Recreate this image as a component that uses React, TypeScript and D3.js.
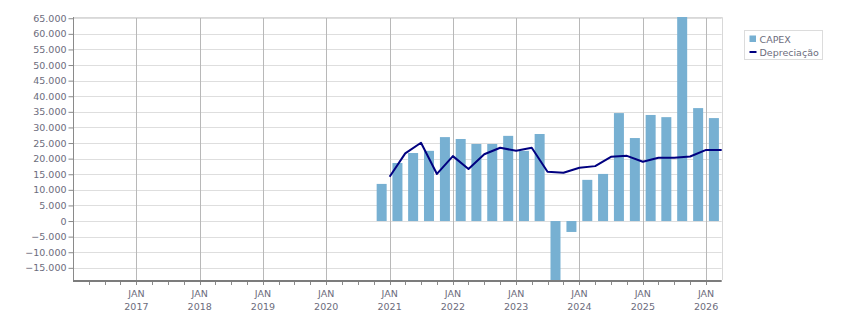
import React, { useRef, useEffect } from "react";
import * as d3 from "d3";

// quarter labels (start of each quarter)
const QUARTERS = [
  "2020-10", "2021-01", "2021-04", "2021-07", "2021-10",
  "2022-01", "2022-04", "2022-07", "2022-10",
  "2023-01", "2023-04", "2023-07", "2023-10",
  "2024-01", "2024-04", "2024-07", "2024-10",
  "2025-01", "2025-04", "2025-07", "2025-10",
  "2026-01",
];

const CAPEX = [
  11900, 18600, 21800, 22500, 26900,
  26300, 24700, 24700, 27300,
  22500, 27900, -21000, -3500,
  13200, 15100, 34600, 26600,
  34000, 33300, 67000, 36200,
  33000,
];

const DEPRECIACAO = [
  14200, 21700, 25100, 15100, 20800,
  16700, 21400, 23500, 22500,
  23500, 15800, 15500, 17100,
  17600, 20600, 20900, 19000,
  20300, 20300, 20700, 22800,
  22800,
];

const Y_TICKS = d3.range(-15000, 65001, 5000);
const SERIES_NAMES = ["CAPEX", "Depreciação"];

const BAR_COLOR = "#77b0d2";
const LINE_COLOR = "#000080";
const TEXT_COLOR = "#6c6c7c";
const FONT = "'DejaVu Sans', Verdana, sans-serif";

const fmt = (d: number) =>
  d3.format(",")(d).replace(/,/g, ".");

export default function App() {
  const svgRef = useRef<SVGSVGElement>(null);
  const width = 851;
  const height = 313;

  useEffect(() => {
    if (!svgRef.current) return;
    const svg = d3.select(svgRef.current);
    svg.selectAll("*").remove();

    const left = 73, right = 721.7, top = 17, bottom = 280;

    const parse = d3.timeParse("%Y-%m");
    const starts = QUARTERS.map((q) => parse(q) as Date);
    const ends = starts.map((d) => d3.timeMonth.offset(d, 3));

    const x = d3
      .scaleTime()
      .domain([new Date(2016, 0, 1), new Date(2026, 3, 1)])
      .range([left, right]);
    const y = d3.scaleLinear().domain([-18900, 65400]).range([bottom, top]);

    svg.append("rect").attr("width", width).attr("height", height).attr("fill", "#fff");

    svg
      .append("defs")
      .append("clipPath")
      .attr("id", "plot-clip")
      .append("rect")
      .attr("x", left)
      .attr("y", top)
      .attr("width", right - left)
      .attr("height", bottom - top);

    // horizontal grid
    svg
      .append("g")
      .selectAll("line")
      .data(Y_TICKS)
      .join("line")
      .attr("x1", left)
      .attr("x2", right)
      .attr("y1", (d) => Math.round(y(d)) + 0.5)
      .attr("y2", (d) => Math.round(y(d)) + 0.5)
      .attr("stroke", "#dedede");

    // vertical grid at each january
    const years = d3.timeYear.range(new Date(2017, 0, 1), new Date(2026, 1, 1));
    svg
      .append("g")
      .selectAll("line")
      .data(years)
      .join("line")
      .attr("x1", (d) => Math.round(x(d)) + 0.5)
      .attr("x2", (d) => Math.round(x(d)) + 0.5)
      .attr("y1", top)
      .attr("y2", bottom)
      .attr("stroke", "#b8b8b8");

    // frame top / right
    svg
      .append("path")
      .attr("d", `M${left},${top + 0.5}H${Math.round(right) + 0.5}V${bottom}`)
      .attr("fill", "none")
      .attr("stroke", "#d8d8d8");

    // bars
    const bw = 10;
    svg
      .append("g")
      .attr("clip-path", "url(#plot-clip)")
      .selectAll("rect")
      .data(CAPEX)
      .join("rect")
      .attr("x", (_, i) => (x(starts[i]) + x(ends[i])) / 2 - bw / 2)
      .attr("width", bw)
      .attr("y", (d) => y(Math.max(0, d)))
      .attr("height", (d) => Math.abs(y(d) - y(0)))
      .attr("fill", BAR_COLOR);

    // depreciation line
    const line = d3
      .line<number>()
      .x((_, i) => x(ends[i]))
      .y((d) => y(d));
    svg
      .append("path")
      .datum(DEPRECIACAO)
      .attr("d", line)
      .attr("fill", "none")
      .attr("stroke", LINE_COLOR)
      .attr("stroke-width", 2)
      .attr("stroke-linejoin", "round");

    // y axis
    const yAxis = svg
      .append("g")
      .attr("transform", `translate(${left + 0.5},0)`)
      .call(
        d3
          .axisLeft(y)
          .tickValues(Y_TICKS)
          .tickSize(5)
          .tickPadding(2)
          .tickFormat((d) => fmt(d as number))
      );
    yAxis.select(".domain").attr("stroke", "#8a8a8a").attr("d", `M0,${top}V${bottom}`);
    yAxis.selectAll(".tick line").attr("stroke", "#8a8a8a");
    yAxis
      .selectAll("text")
      .style("font-family", FONT)
      .style("font-size", "9.5px")
      .attr("fill", TEXT_COLOR);

    // x axis: quarterly minor ticks, january labels
    const quarterTicks = d3.timeMonth.every(3)!.range(new Date(2016, 3, 1), new Date(2026, 3, 1));
    svg
      .append("g")
      .selectAll("line")
      .data(quarterTicks)
      .join("line")
      .attr("x1", (d) => Math.round(x(d)) + 0.5)
      .attr("x2", (d) => Math.round(x(d)) + 0.5)
      .attr("y1", bottom)
      .attr("y2", bottom + 5)
      .attr("stroke", "#8a8a8a");

    svg
      .append("line")
      .attr("x1", left)
      .attr("x2", right)
      .attr("y1", bottom + 1)
      .attr("y2", bottom + 1)
      .attr("stroke", "#7c7c7c")
      .attr("stroke-width", 2);

    const xLabels = svg.append("g");
    years.forEach((d) => {
      const t = xLabels
        .append("text")
        .attr("x", x(d))
        .attr("text-anchor", "middle")
        .style("font-family", FONT)
        .style("font-size", "9.5px")
        .attr("fill", TEXT_COLOR);
      t.append("tspan").attr("x", x(d)).attr("y", 297).text("JAN");
      t.append("tspan").attr("x", x(d)).attr("y", 310).text(d3.timeFormat("%Y")(d));
    });

    // legend
    const lg = svg.append("g").attr("transform", "translate(744.5,30.5)");
    lg.append("rect")
      .attr("width", 78)
      .attr("height", 29)
      .attr("fill", "#fff")
      .attr("stroke", "#dcdcdc");
    lg.append("rect").attr("x", 5).attr("y", 5).attr("width", 6.5).attr("height", 6.5).attr("fill", BAR_COLOR);
    lg.append("line")
      .attr("x1", 5)
      .attr("x2", 12)
      .attr("y1", 21.5)
      .attr("y2", 21.5)
      .attr("stroke", LINE_COLOR)
      .attr("stroke-width", 2);
    SERIES_NAMES.forEach((name, i) => {
      lg.append("text")
        .attr("x", 15)
        .attr("y", 12.5 + i * 13)
        .style("font-family", FONT)
        .style("font-size", "9.5px")
        .attr("fill", TEXT_COLOR)
        .text(name);
    });
  }, []);

  return (
    <svg
      ref={svgRef}
      width={width}
      height={height}
      style={{ position: "absolute", left: 0, top: 0, display: "block" }}
      viewBox={`0 0 ${width} ${height}`}
    />
  );
}
